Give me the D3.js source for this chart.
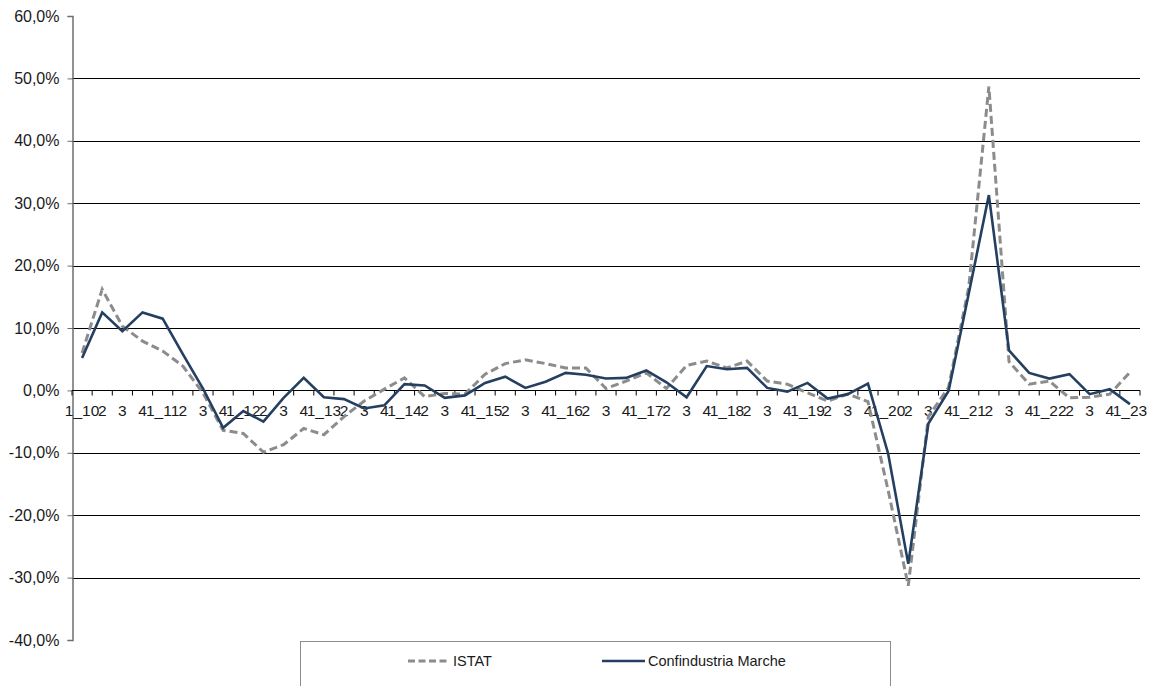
<!DOCTYPE html>
<html>
<head>
<meta charset="utf-8">
<script src="https://cdn.jsdelivr.net/npm/d3@7"></script>
<style>
  html, body { margin: 0; padding: 0; background: #fff; }
  svg { display: block; font-family: "Liberation Sans", Arial, sans-serif; }
</style>
</head>
<body>
<svg id="chart" width="1159" height="686"></svg>
<script>
// ---- data ----
const categories = [
  "1_10","2","3","4","1_11","2","3","4","1_12","2","3","4",
  "1_13","2","3","4","1_14","2","3","4","1_15","2","3","4",
  "1_16","2","3","4","1_17","2","3","4","1_18","2","3","4",
  "1_19","2","3","4","1_20","2","3","4","1_21","2","3","4",
  "1_22","2","3","4","1_23"
];
const istat = [
  6.0, 16.2, 10.3, 7.9, 6.3, 3.9, -0.4, -6.4, -6.9, -9.9, -8.7, -6.1,
  -7.1, -4.2, -1.7, 0.2, 2.0, -1.0, -0.5, -0.6, 2.6, 4.3, 4.9, 4.3,
  3.6, 3.6, 0.3, 1.5, 2.8, 0.3, 4.0, 4.7, 3.6, 4.7, 1.5, 1.0,
  -0.4, -1.7, -0.6, -1.8, -16.0, -31.3, -4.2, 0.5, 16.5, 48.7, 4.6, 1.0,
  1.5, -1.2, -1.1, -0.6, 2.9
];
const confindustria = [
  5.2, 12.5, 9.5, 12.5, 11.5, 5.8, 0.3, -6.0, -3.3, -5.0, -1.2, 2.0,
  -1.1, -1.4, -2.9, -2.4, 1.0, 0.8, -1.2, -0.8, 1.2, 2.2, 0.4, 1.4,
  2.8, 2.5, 1.9, 2.0, 3.2, 1.3, -1.1, 3.9, 3.4, 3.6, 0.4, -0.2,
  1.2, -1.3, -0.6, 1.1, -10.1, -27.8, -5.3, -0.1, 15.5, 31.3, 6.4, 2.8,
  1.9, 2.6, -0.6, 0.2, -2.2
];
const yTicks = [-40, -30, -20, -10, 0, 10, 20, 30, 40, 50, 60];
const seriesNames = ["ISTAT", "Confindustria Marche"];

// ---- layout ----
const svg = d3.select("#chart");
const plotLeft = 72, plotRight = 1140, plotTop = 16, plotBottom = 640;

const x = d3.scaleBand().domain(d3.range(categories.length)).range([plotLeft, plotRight]).paddingInner(0).paddingOuter(0);
const y = d3.scaleLinear().domain([-40, 60]).range([plotBottom, plotTop]);
const fmt = v => d3.format(".1f")(v).replace(".", ",").replace("\u2212", "-") + "%";

// gridlines
svg.append("g").selectAll("line").data(yTicks.filter(t => t !== -40 && t !== 0 && t !== 60))
  .join("line")
  .attr("x1", plotLeft).attr("x2", plotRight)
  .attr("y1", d => Math.round(y(d)) + 0.5).attr("y2", d => Math.round(y(d)) + 0.5)
  .attr("stroke", "#000").attr("stroke-width", 1);

// y axis
const yAxis = d3.axisLeft(y).tickValues(yTicks).tickFormat(fmt).tickSize(5).tickPadding(8);
const gy = svg.append("g").attr("transform", `translate(${plotLeft + 0.5},0)`).call(yAxis);
gy.select(".domain").attr("stroke", "#6f6f6f").attr("stroke-width", 1.5);
gy.selectAll(".tick line").attr("stroke", "#6f6f6f");
gy.selectAll(".tick text").attr("font-size", 16).attr("fill", "#1a1a1a")
  .attr("font-family", "'Liberation Sans', Arial, sans-serif");

// x axis at zero
const y0 = Math.round(y(0)) + 0.5;
const gx = svg.append("g").attr("transform", `translate(0,${y0})`);
gx.append("line").attr("x1", plotLeft).attr("x2", plotRight).attr("stroke", "#000").attr("stroke-width", 1.2);
const boundaries = d3.range(categories.length + 1).map(i => plotLeft + i * x.step());
gx.selectAll("line.tk").data(boundaries).join("line").attr("class", "tk")
  .attr("x1", d => d).attr("x2", d => d).attr("y1", 0).attr("y2", 5)
  .attr("stroke", "#000");
gx.selectAll("text").data(categories).join("text")
  .attr("x", (d, i) => x(i) + x.bandwidth() / 2)
  .attr("y", 25)
  .attr("text-anchor", "middle")
  .attr("font-size", 15.5).attr("fill", "#1a1a1a")
  .text(d => d);

// lines
const line = d3.line().x((d, i) => x(i) + x.bandwidth() / 2).y(d => y(d));
svg.append("path").datum(istat).attr("d", line)
  .attr("fill", "none").attr("stroke", "#8c8c8c").attr("stroke-width", 3)
  .attr("stroke-dasharray", "8,4");
svg.append("path").datum(confindustria).attr("d", line)
  .attr("fill", "none").attr("stroke", "#243f60").attr("stroke-width", 2.6)
  .attr("stroke-linejoin", "miter");

// legend
const lg = svg.append("g");
lg.append("rect").attr("x", 300.5).attr("y", 641.5).attr("width", 590).attr("height", 60)
  .attr("fill", "#fff").attr("stroke", "#8c8c8c").attr("stroke-width", 1);
const items = [
  { name: seriesNames[0], x1: 408, x2: 450, color: "#8c8c8c", dash: "7,3.5", w: 3 },
  { name: seriesNames[1], x1: 602, x2: 645, color: "#243f60", dash: null, w: 2.6 }
];
items.forEach(it => {
  lg.append("line").attr("x1", it.x1).attr("x2", it.x2).attr("y1", 661).attr("y2", 661)
    .attr("stroke", it.color).attr("stroke-width", it.w).attr("stroke-dasharray", it.dash);
  lg.append("text").attr("x", it.x2 + 3).attr("y", 666).attr("font-size", 14.5).attr("fill", "#1a1a1a").text(it.name);
});
</script>
</body>
</html>
